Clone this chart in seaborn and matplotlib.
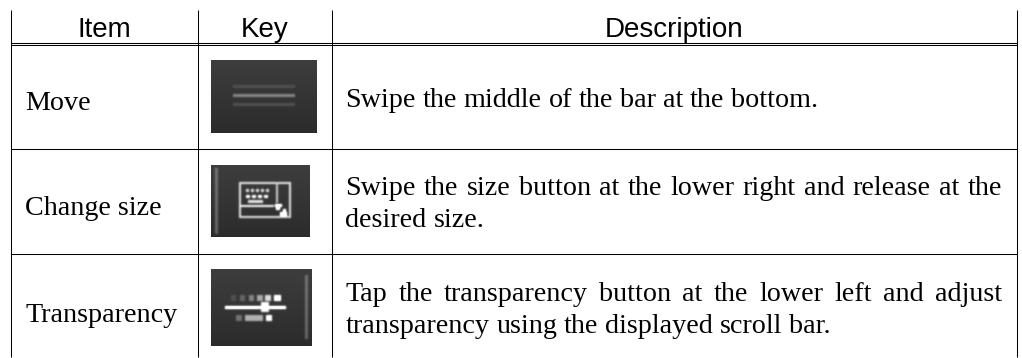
import matplotlib
matplotlib.use("Agg")
import matplotlib.pyplot as plt
import numpy as np
import seaborn as sns

sns.set_theme(style="white")

# Table content
headers = ["Item", "Key", "Description"]
items = ["Move", "Change size", "Transparency"]
descriptions = [
    ["Swipe the middle of the bar at the bottom."],
    ["Swipe the size button at the lower right and release at the", "desired size."],
    ["Tap the transparency button at the lower left and adjust", "transparency using the displayed scroll bar."],
]

# Table layout in pixels
W, H = 1022, 358
col_lines = [10.5, 197.5, 331.5, 1016.5]
header_lines = [42.5, 44.5]
row_lines = [148.5, 253.5]
table_top, table_bottom = 10, 357
header_base = 37
item_x = 25
item_base = [110, 215, 322]
desc_base = [[107], [195, 227], [301, 333]]
desc_left, desc_right = 345.5, 1002
button_boxes = [(211, 60, 106, 73), (211, 165, 99, 72), (211, 269, 101, 77)]


def blur(a, n=2):
    # small box blur so the icons look like the soft screenshots
    for _ in range(n):
        a = (a + np.roll(a, 1, 0) + np.roll(a, -1, 0) + np.roll(a, 1, 1) + np.roll(a, -1, 1)) / 5
    return a


def button(w, h, marks):
    # vertical gradient background + light marks, grey values 0-1
    bg = np.linspace(0.24, 0.17, h)[:, None] * np.ones((1, w))
    layer = np.zeros((h, w))
    for x0, y0, x1, y1, v in marks:
        layer[y0:y1, x0:x1] = v
    return np.clip(bg + blur(layer), 0, 1)


move_marks = [(22, 25, 84, 28, 0.10), (22, 34, 84, 37, 0.32), (22, 43, 84, 46, 0.12)]
size_marks = [(4, 3, 7, 69, 0.22),
              # keyboard outline
              (28, 17, 80, 19, 0.7), (28, 51, 80, 53, 0.7), (28, 17, 30, 53, 0.7), (78, 17, 80, 53, 0.7),
              (65, 17, 67, 38, 0.6), (29, 40, 63, 42, 0.8),
              # keys
              (35, 24, 38, 27, 0.7), (40, 24, 43, 27, 0.7), (45, 24, 48, 27, 0.7), (50, 24, 53, 27, 0.7),
              (55, 24, 58, 27, 0.7),
              (35, 30, 39, 33, 0.85), (41, 30, 45, 33, 0.85), (47, 30, 51, 33, 0.85), (53, 30, 57, 33, 0.85),
              (37, 35, 52, 38, 0.7),
              # arrows
              (64, 39, 71, 42, 1.0), (65, 42, 69, 45, 1.0),
              (72, 44, 75, 47, 1.0), (69, 47, 76, 51, 1.0)]
alpha_marks = [(94, 6, 97, 70, 0.22),
               (20, 26, 25, 32, 0.10), (29, 26, 34, 32, 0.18), (38, 26, 43, 32, 0.30), (46, 26, 52, 32, 0.45),
               (54, 26, 60, 32, 0.65), (63, 26, 70, 32, 0.9),
               (14, 37, 75, 40, 1.0), (50, 33, 58, 43, 0.8),
               (25, 46, 31, 52, 0.25), (34, 46, 52, 52, 0.5), (55, 46, 61, 52, 0.85)]
button_marks = [move_marks, size_marks, alpha_marks]

fig = plt.figure(figsize=(W / 100, H / 100), dpi=100, facecolor="white")
ax = fig.add_axes([0, 0, 1, 1])
ax.set_xlim(0, W)
ax.set_ylim(H, 0)
ax.axis("off")

# rules
for x in col_lines:
    ax.plot([x, x], [table_top, table_bottom], color="black", lw=0.75, solid_capstyle="butt")
for y in header_lines + row_lines:
    ax.plot([col_lines[0], col_lines[-1]], [y, y], color="black", lw=0.75, solid_capstyle="butt")

# header
header_x = [(col_lines[i] + col_lines[i + 1]) / 2 for i in range(3)]
for x, label in zip(header_x, headers):
    ax.text(x, header_base, label, ha="center", va="baseline", family="Liberation Sans", fontsize=20, color="black")

# buttons, one pixel per heatmap cell
for (x, y, w, h), marks in zip(button_boxes, button_marks):
    bax = fig.add_axes([x / W, 1 - (y + h) / H, w / W, h / H])
    sns.heatmap(button(w, h, marks), cmap="gray", vmin=0, vmax=1, cbar=False,
                xticklabels=False, yticklabels=False, ax=bax)

# body text
for y, label in zip(item_base, items):
    ax.text(item_x, y, label, ha="left", va="baseline", family="Liberation Serif", fontsize=20.25, color="black")

renderer = fig.canvas.get_renderer()
for lines, ys in zip(descriptions, desc_base):
    for n, (line, y) in enumerate(zip(lines, ys)):
        words = line.split()
        texts = [ax.text(desc_left, y, w, ha="left", va="baseline", family="Liberation Serif",
                         fontsize=20.25, color="black") for w in words]
        widths = [t.get_window_extent(renderer).width for t in texts]
        gap = 6.8
        # first line of a wrapped paragraph is justified
        if len(lines) > 1 and n == 0:
            gap = (desc_right - desc_left - sum(widths)) / (len(words) - 1)
        x = desc_left
        for t, wd in zip(texts, widths):
            t.set_x(x)
            x += wd + gap

fig.savefig("out.png", dpi=100)
